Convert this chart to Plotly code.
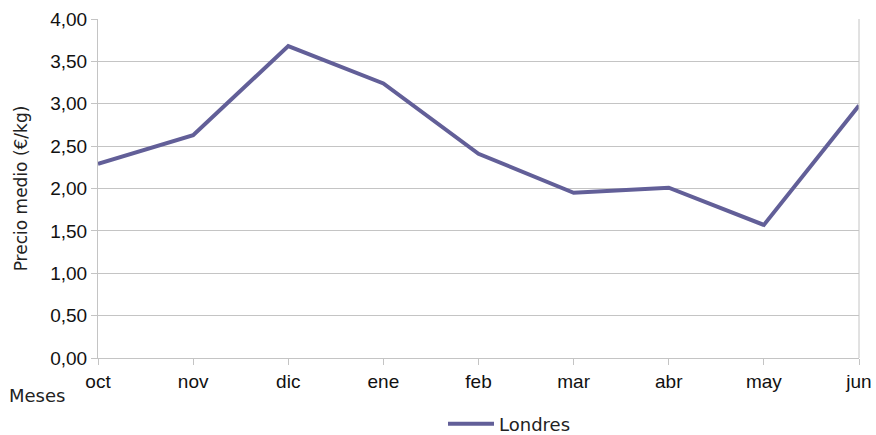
import plotly.graph_objects as go

meses = ["oct", "nov", "dic", "ene", "feb", "mar", "abr", "may", "jun"]
londres = [2.29, 2.63, 3.68, 3.24, 2.41, 1.95, 2.01, 1.57, 2.98]
y_ticks = [0, 0.5, 1, 1.5, 2, 2.5, 3, 3.5, 4]
y_labels = ["0,00", "0,50", "1,00", "1,50", "2,00", "2,50", "3,00", "3,50", "4,00"]

grid = "#c4c4c4"
title_font = "'DejaVu Sans', sans-serif"
tick_font = "'Liberation Sans', Arial, sans-serif"

fig = go.Figure()
fig.add_trace(go.Scatter(
    x=list(range(len(meses))), y=londres, mode="lines", name="Londres",
    line=dict(color="#625f98", width=4),
))

fig.update_layout(
    width=876, height=435,
    margin=dict(l=98, r=17, t=19, b=77, autoexpand=False),
    paper_bgcolor="white", plot_bgcolor="white",
    showlegend=True,
    legend=dict(orientation="h", x=(443 - 98) / 761, xref="paper", xanchor="left",
                yref="container", y=0.025, yanchor="middle",
                font=dict(family=title_font, size=18, color="#222"),
                itemwidth=46, traceorder="normal"),
    xaxis=dict(
        range=[0, len(meses) - 1], tickmode="array",
        tickvals=list(range(len(meses))), ticktext=meses,
        showgrid=False, showline=True, linecolor=grid, linewidth=1,
        ticks="outside", ticklen=6, tickcolor=grid, automargin=False,
        tickfont=dict(family=tick_font, size=19, color="#111"),
        mirror=False, zeroline=False,
    ),
    yaxis=dict(
        range=[0, 4], tickmode="array", tickvals=y_ticks, ticktext=y_labels,
        showgrid=True, gridcolor=grid, gridwidth=1, automargin=False,
        showline=True, linecolor=grid, linewidth=1,
        ticks="outside", ticklen=6, tickcolor=grid,
        tickfont=dict(family=tick_font, size=19, color="#111"),
        zeroline=False,
        title=dict(text="Precio medio (€/kg)", standoff=18,
                   font=dict(family=title_font, size=17, color="#222")),
    ),
    annotations=[dict(
        text="Meses", xref="paper", yref="paper", x=-0.119, y=-0.11,
        xanchor="left", yanchor="middle", showarrow=False,
        font=dict(family=title_font, size=18, color="#222"),
    )],
    shapes=[dict(type="line", xref="paper", yref="paper", x0=1, x1=1, y0=0, y1=1,
                 line=dict(color=grid, width=1))],
)

fig.write_html("out.html")
